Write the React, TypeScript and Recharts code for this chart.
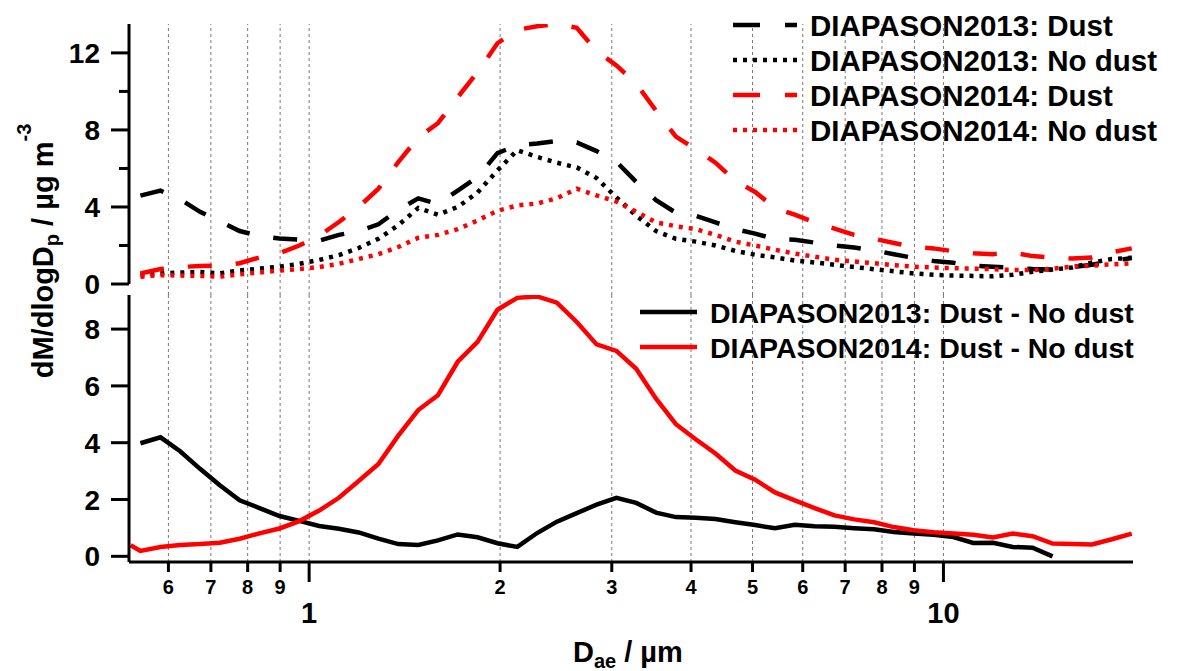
import React from 'react'
import { LineChart, Line, XAxis, YAxis, ReferenceLine, Legend } from 'recharts'

// APS channel midpoints (µm)
const sizes = [0.523, 0.542, 0.583, 0.626, 0.673, 0.723, 0.777, 0.835, 0.898, 0.965, 1.037, 1.114, 1.197, 1.286, 1.382, 1.486, 1.596, 1.715, 1.843, 1.981, 2.129, 2.288, 2.458, 2.642, 2.839, 3.051, 3.278, 3.523, 3.786, 4.068, 4.371, 4.698, 5.048, 5.425, 5.829, 6.264, 6.732, 7.234, 7.774, 8.354, 8.977, 9.647, 10.37, 11.14, 11.97, 12.86, 13.82, 14.86, 15.96, 17.15, 18.43, 19.81]

// top panel
const dust2013 = [null, 4.59, 4.85, 4.4, 3.75, 3.25, 2.75, 2.5, 2.36, 2.3, 2.25, 2.55, 2.75, 3.1, 3.85, 4.45, 4.15, 4.85, 5.55, 6.8, 7.2, 7.3, 7.43, 7.35, 6.9, 6.35, 5.3, 4.35, 3.7, 3.55, 3.2, 2.85, 2.62, 2.33, 2.3, 2.15, 2.0, 1.9, 1.74, 1.55, 1.35, 1.2, 1.1, 0.95, 0.9, 0.85, 0.78, 0.75, 0.88, 1.0, 1.2, 1.35]
const noDust2013 = [null, 0.47, 0.55, 0.6, 0.62, 0.56, 0.7, 0.8, 0.9, 1.05, 1.25, 1.5, 1.87, 2.35, 3.05, 3.95, 3.6, 4.0, 4.75, 5.9, 6.95, 6.6, 6.3, 6.05, 5.5, 4.5, 3.55, 2.75, 2.35, 2.2, 2.0, 1.72, 1.52, 1.38, 1.22, 1.12, 1.0, 0.88, 0.77, 0.66, 0.55, 0.48, 0.44, 0.42, 0.4, 0.48, 0.63, 0.75, 0.86, 1.12, 1.3, 1.36]
const dust2014 = [null, 0.55, 0.78, 0.88, 0.94, 0.95, 1.08, 1.38, 1.6, 2.0, 2.5, 3.22, 4.0, 4.95, 6.33, 7.6, 8.35, 9.7, 11.0, 12.5, 13.2, 13.38, 13.5, 13.3, 12.1, 11.35, 10.4, 9.0, 7.65, 7.0, 6.3, 5.35, 4.78, 3.95, 3.6, 3.2, 2.88, 2.55, 2.35, 2.13, 1.92, 1.85, 1.7, 1.6, 1.55, 1.63, 1.45, 1.38, 1.32, 1.38, 1.65, 1.85]
const noDust2014 = [null, 0.38, 0.46, 0.44, 0.42, 0.38, 0.5, 0.6, 0.7, 0.78, 0.88, 1.05, 1.3, 1.55, 1.92, 2.4, 2.55, 2.85, 3.3, 3.8, 4.08, 4.18, 4.45, 4.95, 4.6, 4.28, 3.75, 3.2, 3.0, 2.85, 2.55, 2.2, 2.0, 1.78, 1.58, 1.42, 1.26, 1.17, 1.08, 0.98, 0.9, 0.86, 0.82, 0.8, 0.77, 0.73, 0.72, 0.8, 0.9, 0.96, 1.02, 1.08]

// bottom panel
const diff2013 = [null, 3.98, 4.19, 3.7, 3.08, 2.5, 1.97, 1.7, 1.42, 1.25, 1.07, 0.97, 0.84, 0.62, 0.43, 0.4, 0.56, 0.77, 0.67, 0.46, 0.33, 0.82, 1.22, 1.52, 1.82, 2.06, 1.88, 1.54, 1.38, 1.36, 1.31, 1.2, 1.1, 0.99, 1.11, 1.06, 1.04, 0.99, 0.95, 0.86, 0.8, 0.76, 0.68, 0.47, 0.48, 0.33, 0.3, 0.0, null, null, null, null]
const diff2014 = [0.39, 0.19, 0.33, 0.4, 0.43, 0.48, 0.62, 0.81, 0.98, 1.24, 1.61, 2.06, 2.65, 3.25, 4.25, 5.15, 5.67, 6.85, 7.55, 8.68, 9.1, 9.15, 8.93, 8.25, 7.46, 7.23, 6.6, 5.55, 4.65, 4.12, 3.62, 3.02, 2.7, 2.25, 1.97, 1.7, 1.44, 1.3, 1.2, 1.03, 0.92, 0.85, 0.8, 0.76, 0.66, 0.8, 0.71, 0.45, 0.43, 0.42, 0.6, 0.8]

const topNames = ['DIAPASON2013: Dust', 'DIAPASON2013: No dust', 'DIAPASON2014: Dust', 'DIAPASON2014: No dust']
const bottomNames = ['DIAPASON2013: Dust - No dust', 'DIAPASON2014: Dust - No dust']

const xTicks = [0.6, 0.7, 0.8, 0.9, 1, 2, 3, 4, 5, 6, 7, 8, 9, 10]
const topYTicks = [0, 2, 4, 6, 8, 10, 12]
const bottomYTicks = [0, 2, 4, 6, 8]

const FONT = '"Liberation Sans", Arial, Helvetica, sans-serif'
const RED = '#ff0000'
const DASH = '24 24'
const DOT = '4 6'
const LW = 4.5
const X_DOMAIN: [number, number] = [0.52, 19.9]

const rows = sizes.map((x, i) => ({
  x,
  dust2013: dust2013[i],
  noDust2013: noDust2013[i],
  dust2014: dust2014[i],
  noDust2014: noDust2014[i],
  diff2013: diff2013[i],
  diff2014: diff2014[i],
}))

function XTick(props: any) {
  const { x, y, payload } = props
  const v = payload.value
  const major = v === 1 || v === 10
  return (
    <g>
      <line x1={x} x2={x} y1={y} y2={y + (major ? 20 : 10)} stroke="#000" strokeWidth={3} />
      <text x={x} y={y + (major ? 61 : 32)} textAnchor="middle" fontFamily={FONT} fontWeight="bold"
        fontSize={major ? 29 : 20} fill="#000">
        {v < 1 ? Math.round(v * 10) : v}
      </text>
    </g>
  )
}

function TopYTick(props: any) {
  const { x, y, payload } = props
  const v = payload.value
  const labeled = v % 4 === 0
  return (
    <g>
      <line x1={x - (labeled ? 18 : 10)} x2={x} y1={y} y2={y} stroke="#000" strokeWidth={3} />
      {labeled && (
        <text x={x - 29} y={y + 10} textAnchor="end" fontFamily={FONT} fontWeight="bold" fontSize={28} fill="#000">
          {v}
        </text>
      )}
    </g>
  )
}

function BottomYTick(props: any) {
  const { x, y, payload } = props
  return (
    <g>
      <line x1={x - 18} x2={x} y1={y} y2={y} stroke="#000" strokeWidth={3} />
      <text x={x - 29} y={y + 10} textAnchor="end" fontFamily={FONT} fontWeight="bold" fontSize={28} fill="#000">
        {payload.value}
      </text>
    </g>
  )
}

const topStyles = [
  { color: '#000', dash: '27 25' },
  { color: '#000', dash: DOT },
  { color: RED, dash: '27 25' },
  { color: RED, dash: DOT },
]

function TopLegend() {
  return (
    <svg width={460} height={140}>
      {topNames.map((name, i) => {
        const cy = 19 + i * 35
        return (
          <g key={name}>
            <line x1={8} x2={72} y1={cy} y2={cy} stroke={topStyles[i].color} strokeWidth={LW}
              strokeDasharray={topStyles[i].dash} />
            <text x={85} y={cy + 10.5} fontFamily={FONT} fontWeight="bold" fontSize={29.5} fill="#000">{name}</text>
          </g>
        )
      })}
    </svg>
  )
}

function BottomLegend() {
  const colors = ['#000', RED]
  return (
    <svg width={520} height={80}>
      {bottomNames.map((name, i) => {
        const cy = 20 + i * 35
        return (
          <g key={name}>
            <line x1={5} x2={62} y1={cy} y2={cy} stroke={colors[i]} strokeWidth={LW} />
            <text x={75} y={cy + 10.5} fontFamily={FONT} fontWeight="bold" fontSize={28.5} fill="#000">{name}</text>
          </g>
        )
      })}
    </svg>
  )
}

const gridLines = xTicks.map(v => (
  <ReferenceLine key={v} x={v} stroke="#777" strokeWidth={1} strokeDasharray="3 3" />
))

export default function App() {
  return (
    <div style={{ position: 'absolute', left: 0, top: 0, width: 1180, height: 671, background: '#fff' }}>
      <div style={{ position: 'absolute', left: 0, top: 0 }}>
        <LineChart width={1180} height={300} data={rows} margin={{ top: 24, right: 47, bottom: 5, left: 69 }}>
          <XAxis dataKey="x" type="number" scale="log" domain={X_DOMAIN} allowDataOverflow ticks={xTicks} hide />
          <YAxis type="number" domain={[-0.57, 13.5]} ticks={topYTicks} width={60} axisLine={false}
            tickLine={false} tickSize={0} tickMargin={0} tick={<TopYTick />} allowDataOverflow />
          {gridLines}
          <ReferenceLine segment={[{ x: 0.52, y: 0 }, { x: 0.52, y: 13.5 }]} stroke="#000" strokeWidth={3}
            ifOverflow="visible" />
          <Line dataKey="dust2013" stroke="#000" strokeWidth={LW} strokeDasharray={DASH} dot={false}
            activeDot={false} isAnimationActive={false} />
          <Line dataKey="noDust2013" stroke="#000" strokeWidth={LW} strokeDasharray={DOT} dot={false}
            activeDot={false} isAnimationActive={false} />
          <Line dataKey="dust2014" stroke={RED} strokeWidth={LW} strokeDasharray={DASH} dot={false}
            activeDot={false} isAnimationActive={false} />
          <Line dataKey="noDust2014" stroke={RED} strokeWidth={LW} strokeDasharray={DOT} dot={false}
            activeDot={false} isAnimationActive={false} />
          <Legend content={<TopLegend />} layout="vertical" align="center" verticalAlign="middle"
            wrapperStyle={{ left: 725, top: 6, width: 460, height: 140 }} />
        </LineChart>
      </div>
      <div style={{ position: 'absolute', left: 0, top: 0 }}>
        <LineChart width={1180} height={671} data={rows} margin={{ top: 295, right: 47, bottom: 39, left: 69 }}>
          <XAxis dataKey="x" type="number" scale="log" domain={X_DOMAIN} allowDataOverflow ticks={xTicks}
            height={70} axisLine={{ stroke: '#000', strokeWidth: 3 }} tickLine={false} tickSize={0}
            tickMargin={0} tick={<XTick />} interval={0} />
          <YAxis type="number" domain={[-0.2, 9.2]} ticks={bottomYTicks} width={60}
            axisLine={{ stroke: '#000', strokeWidth: 3 }} tickLine={false} tickSize={0} tickMargin={0}
            tick={<BottomYTick />} allowDataOverflow />
          {gridLines}
          <Line dataKey="diff2013" stroke="#000" strokeWidth={LW} dot={false} activeDot={false}
            isAnimationActive={false} />
          <Line dataKey="diff2014" stroke={RED} strokeWidth={LW} dot={false} activeDot={false}
            isAnimationActive={false} />
          <Legend content={<BottomLegend />} layout="vertical" align="center" verticalAlign="middle"
            wrapperStyle={{ left: 635, top: 292, width: 520, height: 80 }} />
        </LineChart>
      </div>
      <svg width={1180} height={671} style={{ position: 'absolute', left: 0, top: 0, pointerEvents: 'none' }}>
        <text x={573} y={662} fontFamily={FONT} fontWeight="bold" fontSize={29} fill="#000">
          D<tspan fontSize={20} dy={6}>ae</tspan><tspan dy={-6}> / µm</tspan>
        </text>
        <text transform="translate(53, 251) rotate(-90)" textAnchor="middle" fontFamily={FONT}
          fontWeight="bold" fontSize={29} fill="#000">
          dM/dlogD<tspan fontSize={20} dy={6}>p</tspan><tspan dy={-6}> / µg m</tspan>
          <tspan fontSize={20} dy={-22}>-3</tspan>
        </text>
      </svg>
    </div>
  )
}
